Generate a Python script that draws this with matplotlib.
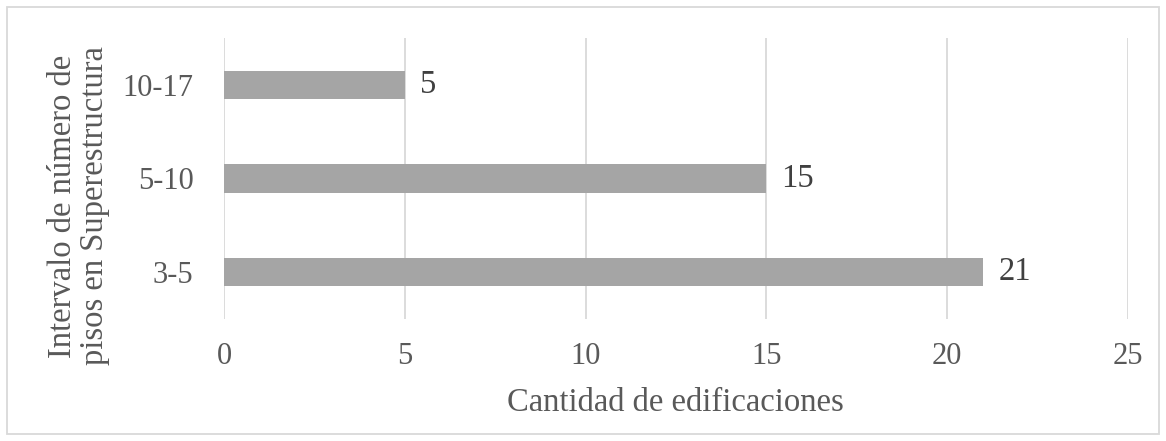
import matplotlib
matplotlib.use("Agg")
import matplotlib.pyplot as plt

categories = ["3-5", "5-10", "10-17"]
values = [21, 15, 5]
xticks = [0, 5, 10, 15, 20, 25]

plt.rcParams['font.family'] = ['Liberation Serif', 'DejaVu Serif']

W, H = 1166, 441
fig = plt.figure(figsize=(W / 100, H / 100), dpi=100)
left, right, top, bottom = 224, 1128, 38.25, 318.75
ax = fig.add_axes([left / W, 1 - bottom / H, (right - left) / W, (bottom - top) / H])
ax.barh(range(len(categories)), values, height=0.31, color='#a5a5a5', zorder=3)
for i, v in enumerate(values):
    ax.text(v + 0.42, i, str(v), va='center', ha='left', fontsize=23.5, color='#404040')
ax.set_xlim(0, 25)
ax.set_ylim(-0.5, 2.5)
ax.set_xticks(xticks)
ax.set_xticklabels([str(t) for t in xticks])
ax.set_yticks(range(len(categories)))
ax.set_yticklabels(categories)
ax.tick_params(axis='both', length=0, labelsize=22, labelcolor='#595959')
ax.tick_params(axis='x', pad=17)
ax.tick_params(axis='y', pad=22)
ax.grid(axis='x', color='#d9d9d9', linewidth=1.3, zorder=0)
for s in ax.spines.values():
    s.set_visible(False)
fig.text(675 / W, 1 - 411 / H, "Cantidad de edificaciones", fontsize=23.5, color='#595959',
         ha='center', va='baseline')
fig.text(79 / W, 1 - 206 / H, "Intervalo de número de\npisos en Superestructura", fontsize=23.5,
         color='#595959', rotation=90, ha='center', va='center', multialignment='center',
         linespacing=1.05)
fig.patches.append(plt.Rectangle((7 / W, 7 / H), (1159 - 7) / W, (434 - 7) / H,
                                 transform=fig.transFigure, fill=False,
                                 edgecolor='#d9d9d9', linewidth=1.3))
fig.savefig("out.png", dpi=100)
